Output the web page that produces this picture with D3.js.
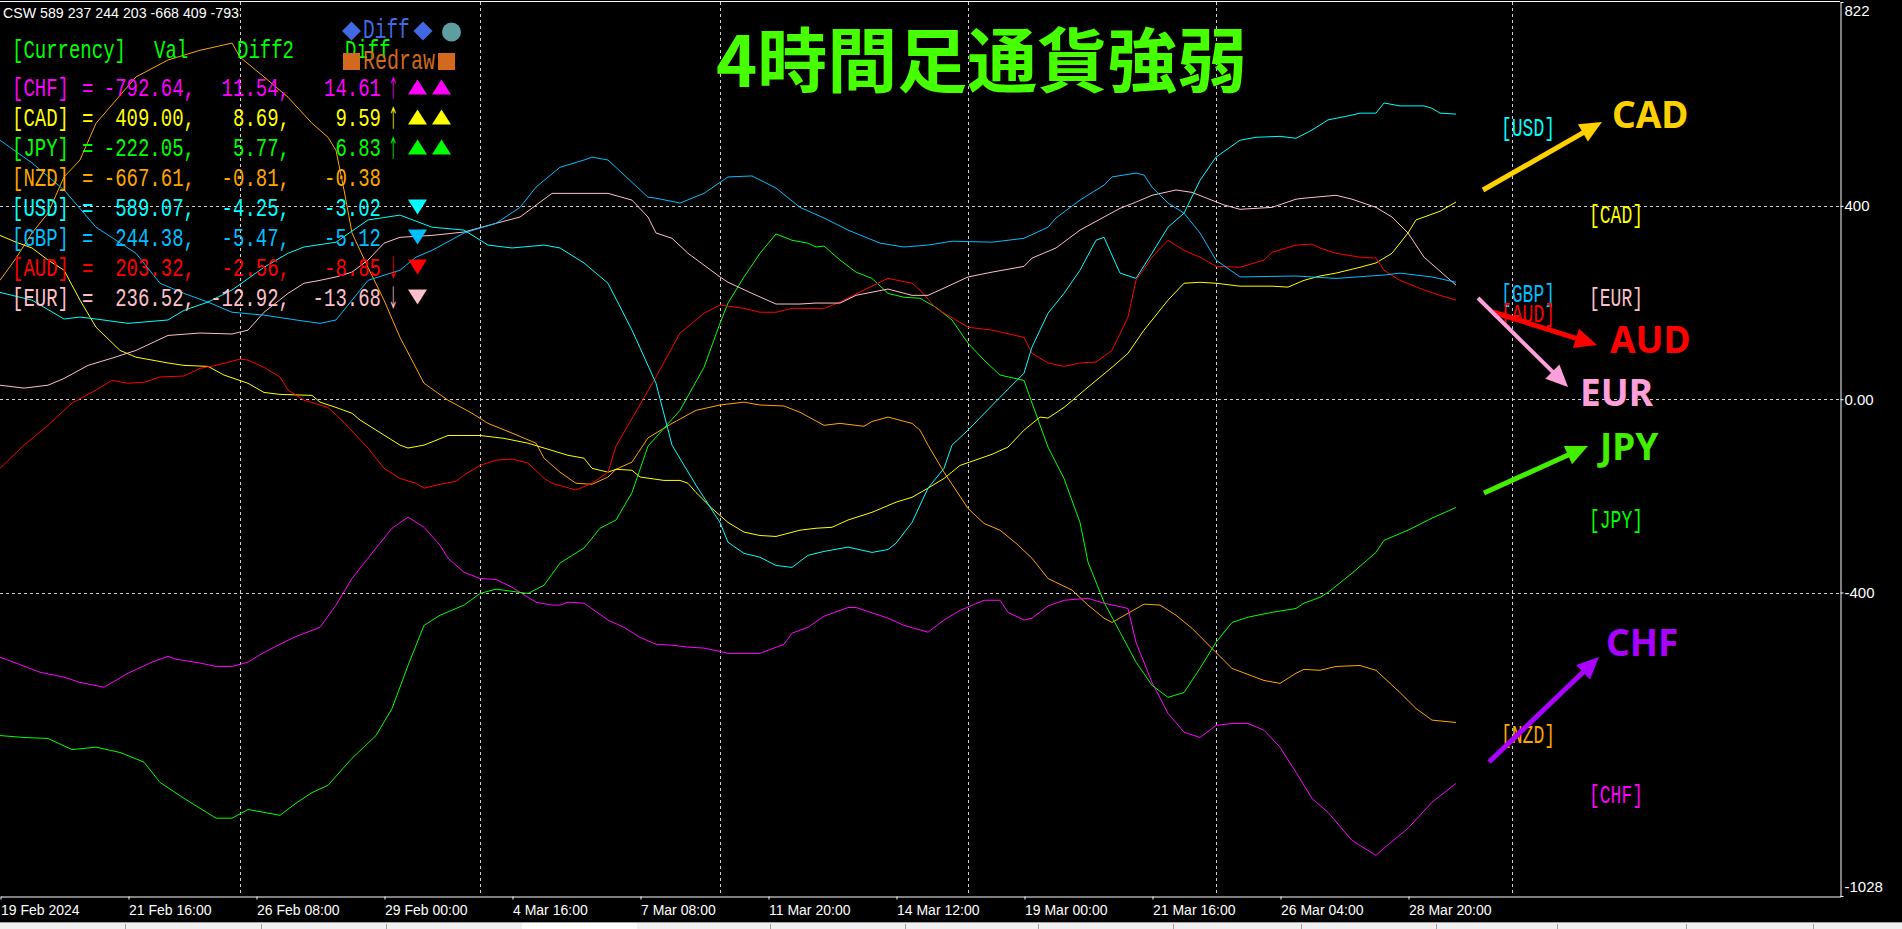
<!DOCTYPE html>
<html>
<head>
<meta charset="utf-8">
<script src="https://cdn.jsdelivr.net/npm/d3@7"></script>
<style>
html, body { margin: 0; padding: 0; background: #000; overflow: hidden; }
svg { display: block; }
</style>
</head>
<body>
<svg id="chart" width="1902" height="929"></svg>
<script>
// 4H currency strength, [bar index, value], bar 0 = 19 Feb 2024 00:00
var chf = [[0,-534],[2,-546],[5,-565],[8,-575],[10,-586],[13,-596],[16,-567],[19,-544],[21,-532],[22,-538],[25,-546],[27,-553],[29,-553],[31,-544],[33,-524],[35,-507],[37,-491],[40,-472],[42,-426],[44,-371],[47,-308],[49,-267],[51,-244],[53,-265],[55,-302],[56,-329],[58,-358],[60,-371],[62,-373],[64,-389],[66,-410],[67,-420],[69,-426],[70,-426],[71,-420],[73,-422],[76,-457],[78,-472],[80,-493],[82,-507],[84,-509],[86,-513],[88,-515],[90,-522],[91,-526],[95,-526],[98,-507],[99,-484],[101,-472],[103,-449],[106,-431],[107,-431],[111,-453],[113,-468],[116,-482],[118,-457],[120,-437],[123,-416],[125,-416],[126,-441],[128,-457],[129,-453],[131,-428],[133,-416],[136,-412],[138,-422],[141,-433],[142,-503],[144,-586],[146,-650],[148,-689],[150,-700],[152,-675],[154,-671],[156,-671],[158,-685],[160,-720],[162,-772],[164,-826],[166,-855],[169,-913],[172,-944],[173,-929],[176,-888],[179,-834],[182,-795]];
var cad = [[0,339],[2,325],[4,313],[6,288],[8,267],[10,205],[12,149],[15,101],[17,87],[21,75],[23,70],[26,68],[28,50],[31,33],[33,14],[35,10],[39,8],[40,-6],[42,-17],[44,-29],[45,-43],[50,-95],[51,-101],[53,-95],[56,-75],[60,-75],[63,-81],[66,-91],[69,-106],[71,-116],[73,-122],[74,-143],[76,-151],[77,-145],[79,-147],[80,-161],[83,-168],[85,-168],[86,-174],[87,-193],[89,-226],[91,-255],[93,-275],[95,-282],[97,-284],[100,-271],[102,-267],[104,-265],[106,-250],[109,-234],[112,-213],[114,-203],[116,-184],[118,-164],[120,-137],[124,-114],[126,-99],[128,-64],[130,-37],[131,-39],[133,-17],[136,25],[139,66],[141,95],[143,143],[146,205],[148,240],[150,242],[152,240],[155,234],[159,234],[161,232],[163,246],[165,255],[167,261],[170,273],[172,282],[174,302],[176,344],[177,371],[180,389],[182,408]];
var jpy = [[0,-696],[3,-700],[6,-702],[9,-725],[12,-720],[15,-731],[18,-751],[20,-793],[23,-826],[27,-867],[29,-867],[31,-849],[35,-861],[37,-836],[39,-814],[41,-799],[44,-743],[47,-696],[49,-640],[51,-551],[53,-468],[55,-447],[58,-426],[60,-402],[62,-393],[66,-402],[68,-385],[70,-339],[73,-308],[75,-267],[77,-250],[79,-193],[81,-97],[85,-23],[88,66],[90,157],[91,199],[93,253],[95,302],[97,342],[99,329],[101,323],[102,315],[103,317],[105,288],[107,263],[109,250],[111,219],[113,211],[115,209],[117,190],[119,164],[121,116],[123,81],[125,50],[128,39],[129,-8],[131,-99],[133,-164],[135,-255],[136,-337],[138,-420],[140,-482],[142,-544],[144,-592],[146,-617],[148,-607],[150,-557],[152,-503],[154,-462],[156,-451],[159,-441],[162,-433],[163,-422],[165,-410],[166,-400],[169,-360],[172,-317],[173,-292],[176,-271],[179,-246],[182,-224]];
var nzd = [[0,246],[2,292],[4,344],[6,385],[8,460],[10,495],[12,571],[17,667],[21,702],[25,722],[29,737],[30,708],[33,667],[36,625],[39,571],[41,542],[42,515],[43,433],[44,344],[46,273],[48,205],[50,128],[53,33],[56,-2],[59,-29],[61,-50],[64,-70],[67,-91],[68,-122],[70,-151],[72,-174],[74,-176],[76,-161],[77,-145],[79,-130],[81,-80],[84,-50],[87,-23],[90,-12],[91,-10],[93,-6],[95,-12],[98,-14],[100,-27],[103,-54],[105,-50],[108,-56],[109,-46],[111,-37],[114,-50],[115,-64],[116,-95],[118,-151],[121,-226],[123,-257],[125,-271],[127,-298],[129,-329],[131,-371],[134,-395],[136,-426],[138,-453],[139,-462],[141,-443],[143,-424],[145,-426],[147,-447],[149,-474],[152,-524],[154,-557],[158,-582],[160,-588],[162,-567],[163,-559],[165,-561],[167,-553],[170,-551],[172,-561],[175,-607],[177,-640],[179,-664],[182,-669]];
var usd = [[0,221],[4,205],[8,166],[10,170],[12,166],[16,157],[21,164],[23,184],[26,201],[29,226],[33,273],[36,302],[38,315],[42,325],[46,371],[50,381],[54,356],[58,350],[61,319],[64,313],[68,319],[70,313],[73,282],[76,240],[79,143],[82,33],[84,-95],[87,-178],[90,-255],[91,-296],[93,-319],[95,-327],[97,-344],[99,-348],[101,-323],[103,-315],[106,-306],[109,-317],[111,-311],[112,-298],[114,-255],[116,-184],[118,-143],[119,-95],[121,-64],[125,4],[128,54],[129,108],[131,178],[133,219],[135,267],[137,329],[138,335],[140,261],[142,250],[144,302],[146,356],[148,385],[150,453],[152,501],[155,536],[157,542],[160,544],[162,540],[164,557],[166,578],[169,588],[170,592],[172,592],[173,613],[175,607],[178,607],[179,602],[180,592],[182,590]];
var gbp = [[0,536],[4,489],[8,433],[12,356],[17,302],[20,240],[23,219],[26,201],[29,180],[33,174],[37,164],[40,157],[42,164],[44,205],[46,246],[50,267],[52,294],[54,308],[58,344],[62,364],[65,397],[67,439],[70,480],[73,495],[74,501],[76,495],[81,418],[82,416],[85,406],[88,426],[91,460],[94,462],[97,437],[100,397],[103,375],[106,350],[110,323],[113,315],[116,319],[119,327],[124,325],[128,333],[131,356],[132,375],[135,412],[138,443],[139,460],[142,468],[143,464],[144,439],[146,406],[148,385],[150,344],[152,288],[155,253],[162,255],[167,250],[173,257],[175,261],[179,253],[182,242]];
var aud = [[0,-143],[3,-95],[6,-54],[8,-23],[9,-8],[12,19],[14,39],[16,33],[18,35],[20,46],[23,48],[25,64],[27,70],[30,83],[31,81],[33,66],[35,46],[36,19],[38,-2],[41,-17],[43,-48],[46,-101],[47,-122],[48,-143],[50,-164],[52,-174],[53,-184],[55,-176],[57,-170],[58,-157],[60,-137],[62,-126],[64,-124],[66,-132],[68,-164],[69,-174],[72,-188],[74,-174],[76,-151],[77,-97],[82,46],[85,137],[88,178],[90,195],[93,188],[95,180],[97,180],[99,188],[103,188],[105,201],[108,226],[111,250],[114,240],[115,226],[117,188],[120,159],[121,149],[124,143],[128,128],[129,95],[131,75],[133,68],[135,75],[137,77],[139,101],[141,170],[142,246],[144,294],[146,329],[148,308],[150,294],[152,275],[155,273],[158,288],[159,304],[162,319],[164,321],[165,313],[167,302],[170,294],[172,292],[173,267],[175,246],[178,226],[180,215],[182,205]];
var eur = [[0,29],[3,23],[6,29],[8,43],[11,70],[14,85],[17,101],[21,132],[25,137],[29,135],[31,143],[33,180],[36,219],[38,240],[40,246],[42,253],[44,263],[46,288],[48,323],[50,335],[54,339],[58,346],[62,364],[65,377],[69,426],[73,426],[76,426],[79,412],[81,377],[82,344],[84,333],[86,302],[90,253],[91,242],[94,219],[97,197],[100,197],[102,199],[105,199],[107,215],[111,228],[114,215],[116,215],[118,230],[121,253],[124,263],[128,275],[129,292],[132,313],[135,350],[138,377],[140,395],[142,408],[144,422],[147,433],[149,428],[153,402],[155,393],[159,397],[162,414],[163,416],[167,422],[169,414],[172,397],[174,377],[176,344],[178,294],[182,236]];

// table at top left
var tblNames = ['CHF', 'CAD', 'JPY', 'NZD', 'USD', 'GBP', 'AUD', 'EUR'];
var tblVal = [-792.64, 409.00, -222.05, -667.61, 589.07, 244.38, 203.32, 236.52];
var tblDiff2 = [11.54, 8.69, 5.77, -0.81, -4.25, -5.47, -2.56, -12.92];
var tblDiff = [14.61, 9.59, 6.83, -0.38, -3.02, -5.12, -8.85, -13.68];
var tblArrow = ['↑', '↑', '↑', '', '', '', '↓', '↓'];
var tblTri = [2, 2, 2, 0, -1, -1, -1, -1];
var tblHeader = ['[Currency]', 'Val', 'Diff2', 'Diff'];
var cswOrder = ['USD', 'EUR', 'GBP', 'AUD', 'NZD', 'CAD', 'CHF'];

// axis labels
var tickBars = [0, 16, 32, 48, 64, 80, 96, 112, 128, 144, 160, 176];
var tickLabels = ['19 Feb 2024', '21 Feb 16:00', '26 Feb 08:00', '29 Feb 00:00', '4 Mar 16:00', '7 Mar 08:00', '11 Mar 20:00', '14 Mar 12:00', '19 Mar 00:00', '21 Mar 16:00', '26 Mar 04:00', '28 Mar 20:00'];
var gridBars = [30, 60, 90, 121, 152, 189];
var yTicks = [822, 400, 0, -400, -1028];
var yTickLabels = ['822', '400', '0.00', '-400', '-1028'];
var yGrid = [400, 0, -400];

var series = {CHF: chf, CAD: cad, JPY: jpy, NZD: nzd, USD: usd, GBP: gbp, AUD: aud, EUR: eur};
var colors = {CHF: '#ff00ff', CAD: '#ffff00', JPY: '#00ff00', NZD: '#ffa500', USD: '#00ffff', GBP: '#00bfff', AUD: '#ff0000', EUR: '#ffc0cb'};

var svg = d3.select('#chart');
var W = 1902, plotR = 1840, plotB = 896;
var mono = '"Liberation Mono", "DejaVu Sans Mono", monospace';
var cw = 11.4;     // char width of the gothic-like text (0.6em of 19px)
var stretch = 1.38; // tall narrow look

var x = d3.scaleLinear().domain([0, 230]).range([0, plotR]);
var y = d3.scaleLinear().domain([-1028, 822]).range([plotB, 2]);

svg.append('rect').attr('width', W).attr('height', 929).attr('fill', '#000');

// grid
var gridG = svg.append('g').attr('stroke', '#d0d0d0').attr('stroke-width', 1).attr('stroke-dasharray', '3,3');
gridG.selectAll('.hg').data(yGrid).enter().append('line')
    .attr('x1', 0).attr('x2', plotR)
    .attr('y1', function(d) { return Math.round(y(d)) + 0.5; })
    .attr('y2', function(d) { return Math.round(y(d)) + 0.5; });
gridG.selectAll('.vg').data(gridBars).enter().append('line')
    .attr('y1', 2).attr('y2', plotB)
    .attr('x1', function(d) { return Math.round(x(d)) + 0.5; })
    .attr('x2', function(d) { return Math.round(x(d)) + 0.5; });

// frame top
svg.append('line').attr('x1', 0).attr('x2', plotR).attr('y1', 1.5).attr('y2', 1.5).attr('stroke', '#fff');

// axes
var xAxis = d3.axisBottom(x).tickValues(tickBars).tickFormat(function(d, i) { return tickLabels[i]; }).tickSizeInner(3).tickSizeOuter(0);
var xAxisG = svg.append('g').attr('transform', 'translate(0.5,' + (plotB + 0.5) + ')').call(xAxis);
xAxisG.selectAll('text').attr('text-anchor', 'start').attr('x', 0).attr('y', 9)
    .attr('fill', '#fff').style('font', '14px "Liberation Sans", Arial, sans-serif');

var yAxis = d3.axisRight(y).tickValues(yTicks).tickFormat(function(d, i) { return yTickLabels[i]; }).tickSizeInner(3).tickSizeOuter(0);
var yAxisG = svg.append('g').attr('transform', 'translate(' + (plotR + 0.5) + ',0)').call(yAxis);
yAxisG.selectAll('text').attr('x', 4)
    .attr('y', function(d) { var p = y(d); return Math.max(11, Math.min(887, p)) - p; })
    .attr('fill', '#fff').style('font', '15px "Liberation Sans", Arial, sans-serif');
svg.selectAll('.domain, .tick line').attr('stroke', '#fff');

// currency lines
var line = d3.line().x(function(d) { return x(d[0]); }).y(function(d) { return y(d[1]); });
var drawOrder = ['NZD', 'CHF', 'JPY', 'CAD', 'AUD', 'EUR', 'GBP', 'USD'];
svg.append('g').selectAll('path').data(drawOrder).enter().append('path')
    .attr('d', function(k) { return line(series[k]); })
    .attr('fill', 'none').attr('stroke', function(k) { return colors[k]; }).attr('stroke-width', 1);

// gothic-like text: monospace, stretched vertically
function gtext(g, str, x0, yy, col, fs) {
    return g.append('text').attr('x', 0).attr('y', 0)
        .attr('transform', 'translate(' + x0 + ',' + yy + ') scale(1,' + stretch + ')')
        .attr('fill', col).style('font', (fs || 19) + 'px ' + mono).style('white-space', 'pre').text(str);
}
function gtextEnd(g, str, xEnd, yy, col) {
    return gtext(g, str, xEnd - str.length * cw, yy, col);
}

// right side labels at last value
var lastBar = chf[chf.length - 1][0];
var ranked = tblNames.map(function(k, i) { return {k: k, v: tblVal[i]}; }).sort(function(a, b) { return b.v - a.v; });
var rightG = svg.append('g');
ranked.forEach(function(d, i) {
    gtext(rightG, '[' + d.k + ']', x(lastBar) + (i % 2 ? 133 : 45), y(d.v) + 21, colors[d.k], 18);
});

// top-left info
var rounded = {};
tblNames.forEach(function(k, i) { rounded[k] = Math.round(tblVal[i]); });
var csw = 'CSW ' + cswOrder.map(function(k) { return rounded[k]; }).join(' ');
svg.append('text').attr('x', 3).attr('y', 18).attr('fill', '#fff')
    .attr('textLength', 236).attr('lengthAdjust', 'spacingAndGlyphs')
    .style('font', '15px "Liberation Sans", Arial, sans-serif').text(csw);

var hdrStart = [12, 154, 237, 345];
var hdrG = svg.append('g');
tblHeader.forEach(function(h, i) { gtext(hdrG, h, hdrStart[i], 58, '#00ff00'); });

// buttons
var btn = svg.append('g');
function diamond(cx, cy, r) { return 'M' + cx + ',' + (cy - r) + 'L' + (cx + r) + ',' + cy + 'L' + cx + ',' + (cy + r) + 'L' + (cx - r) + ',' + cy + 'Z'; }
btn.append('path').attr('d', diamond(351.5, 31, 9.5)).attr('fill', '#4169e1');
btn.append('path').attr('d', diamond(423, 31, 9.5)).attr('fill', '#4169e1');
btn.append('circle').attr('cx', 451.5).attr('cy', 32).attr('r', 9.5).attr('fill', '#5f9ea0');
gtext(btn, 'Diff', 363, 38, '#4169e1', 19.5);
btn.append('rect').attr('x', 343).attr('y', 53).attr('width', 17).attr('height', 17).attr('fill', '#d2691e');
btn.append('rect').attr('x', 438).attr('y', 53).attr('width', 17).attr('height', 17).attr('fill', '#d2691e');
gtext(btn, 'Redraw', 363, 69, '#d2691e', 20);

var rows = svg.append('g').selectAll('g').data(tblNames).enter().append('g')
    .attr('transform', function(d, i) { return 'translate(0,' + (95.5 + 30 * i) + ')'; });
rows.each(function(k, i) {
    var g = d3.select(this), c = colors[k];
    gtext(g, '[' + k + ']', 12, 0, c);
    gtext(g, '=', 82, 0, c);
    gtextEnd(g, tblVal[i].toFixed(2) + ',', 195, 0, c);
    gtextEnd(g, tblDiff2[i].toFixed(2) + ',', 290, 0, c);
    gtextEnd(g, tblDiff[i].toFixed(2), 381, 0, c);
    if (tblArrow[i]) {
        g.append('text').attr('x', 0).attr('y', 0)
            .attr('transform', 'translate(388,1) scale(0.55,1.3)')
            .attr('fill', c).style('font', '19px "Noto Sans CJK JP", sans-serif').text(tblArrow[i]);
    }
    var n = Math.abs(tblTri[i]), up = tblTri[i] > 0;
    for (var j = 0; j < n; j++) {
        var x0 = 408 + j * 24;
        var p = up ? 'M' + x0 + ',-1L' + (x0 + 19) + ',-1L' + (x0 + 9.5) + ',-16Z'
                   : 'M' + x0 + ',-16L' + (x0 + 19) + ',-16L' + (x0 + 9.5) + ',-1Z';
        g.append('path').attr('d', p).attr('fill', c);
    }
});

// title
svg.append('text').attr('x', 716).attr('y', 87).attr('fill', '#46ff00')
    .style('font', 'bold 70px "Noto Sans CJK JP", sans-serif')
    .text('4時間足通貨強弱');

// hand drawn annotations
var notes = [
    {t: 'CAD', c: '#ffd000', tx: 1612, ty: 128, a: [1483, 190, 1602, 122], w: 5},
    {t: 'AUD', c: '#ff0000', tx: 1610, ty: 353, a: [1493, 312, 1597, 345], w: 5},
    {t: 'EUR', c: '#ffa0dc', tx: 1580, ty: 406, a: [1478, 298, 1568, 387], w: 4},
    {t: 'JPY', c: '#44ee00', tx: 1600, ty: 460, a: [1484, 493, 1588, 446], w: 5},
    {t: 'CHF', c: '#aa00ff', tx: 1606, ty: 656, a: [1489, 762, 1599, 657], w: 5}
];
var noteG = svg.append('g');
notes.forEach(function(n) {
    var x1 = n.a[0], y1 = n.a[1], x2 = n.a[2], y2 = n.a[3];
    var len = Math.hypot(x2 - x1, y2 - y1), ux = (x2 - x1) / len, uy = (y2 - y1) / len;
    var hl = 22, hw = 10;
    var bx = x2 - ux * hl, by = y2 - uy * hl;
    noteG.append('line').attr('x1', x1).attr('y1', y1).attr('x2', bx + ux * 2).attr('y2', by + uy * 2)
        .attr('stroke', n.c).attr('stroke-width', n.w);
    noteG.append('path')
        .attr('d', 'M' + x2 + ',' + y2 + 'L' + (bx - uy * hw) + ',' + (by + ux * hw) + 'L' + (bx + uy * hw) + ',' + (by - ux * hw) + 'Z')
        .attr('fill', n.c);
    noteG.append('text').attr('x', n.tx).attr('y', n.ty).attr('fill', n.c)
        .style('font', 'bold 37px "Noto Sans", "Open Sans", sans-serif').text(n.t);
});

// window tab strip at the bottom
var strip = svg.append('g');
strip.append('rect').attr('x', 0).attr('y', 922).attr('width', W).attr('height', 7).attr('fill', '#f0f0f0');
strip.append('line').attr('x1', 0).attr('x2', W).attr('y1', 922.5).attr('y2', 922.5).attr('stroke', '#a0a0a0');
strip.append('rect').attr('x', 522).attr('y', 923).attr('width', 115).attr('height', 6).attr('fill', '#fff');
var seps = [125, 261, 386, 770, 905, 1038, 1173, 1301, 1436, 1557, 1686, 1813];
strip.selectAll('.sep').data(seps).enter().append('line')
    .attr('x1', function(d) { return d + 0.5; }).attr('x2', function(d) { return d + 0.5; })
    .attr('y1', 924).attr('y2', 929).attr('stroke', '#a0a0a0');
</script>
</body>
</html>
